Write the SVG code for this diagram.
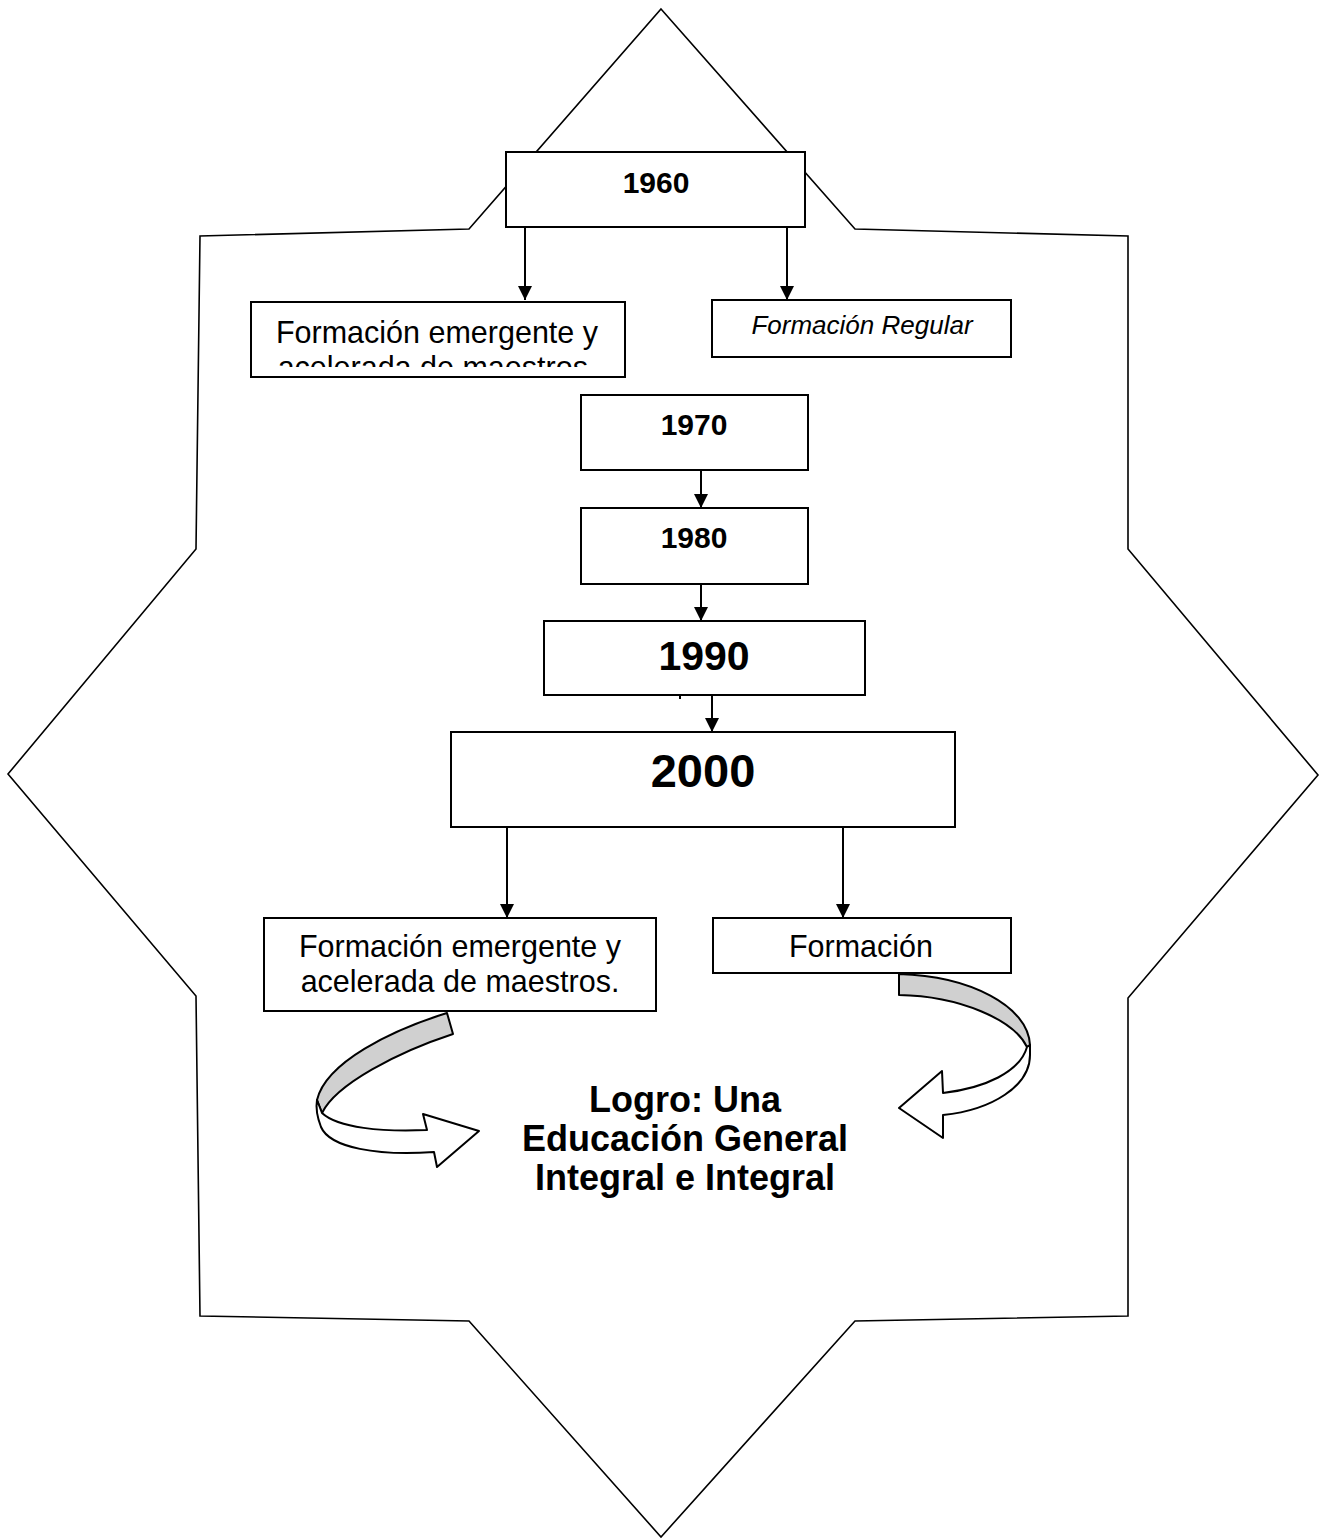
<svg xmlns="http://www.w3.org/2000/svg" width="1321" height="1539" viewBox="0 0 1321 1539">
  <style>
    .star { fill: #fff; stroke: #000; stroke-width: 1.6; stroke-linejoin: miter; }
    .box { fill: #fff; stroke: #000; stroke-width: 2; }
    .edge { stroke: #000; stroke-width: 2; fill: none; }
    .t { font-family: "Liberation Sans", Arial, sans-serif; fill: #000; text-anchor: middle; }
    .b { font-weight: bold; }
    .band { stroke: #000; stroke-width: 2; stroke-linejoin: round; }
  </style>
  <defs>
    <marker id="head" viewBox="0 0 14 14" refX="14" refY="7" markerWidth="14" markerHeight="14" markerUnits="userSpaceOnUse" orient="auto">
      <path d="M0,0 L14,7 L0,14 Z" fill="#000"/>
    </marker>
    <clipPath id="clipEarly">
      <rect x="252" y="303" width="372" height="64"/>
    </clipPath>
  </defs>

  <rect width="1321" height="1539" fill="#fff"/>

  <!-- eight-pointed star frame -->
  <polygon class="star" points="661,9 855,229 1128,236 1128,549 1318,775 1128,998 1128,1316 855,1321 661,1537 469,1321 200,1316 196,996 8,774 196,549 200,236 469,229"/>

  <!-- connectors -->
  <g id="connectors">
    <line class="edge" x1="525" y1="227" x2="525" y2="300" marker-end="url(#head)"/>
    <line class="edge" x1="787" y1="227" x2="787" y2="300" marker-end="url(#head)"/>
    <line class="edge" x1="701" y1="466" x2="701" y2="508" marker-end="url(#head)"/>
    <line class="edge" x1="701" y1="582" x2="701" y2="621" marker-end="url(#head)"/>
    <line class="edge" x1="712" y1="694" x2="712" y2="732" marker-end="url(#head)"/>
    <line class="edge" x1="680" y1="695" x2="680" y2="699" stroke-width="1.5"/>
    <line class="edge" x1="507" y1="827" x2="507" y2="918" marker-end="url(#head)"/>
    <line class="edge" x1="843" y1="827" x2="843" y2="918" marker-end="url(#head)"/>
  </g>

  <g id="n1960">
    <rect class="box" x="506" y="152" width="299" height="75"/>
    <text class="t b" x="656" y="193" font-size="30">1960</text>
  </g>

  <g id="early-left">
    <rect class="box" x="251" y="302" width="374" height="75"/>
    <g clip-path="url(#clipEarly)">
      <text class="t" x="437" y="343" font-size="30.5">Formación emergente y</text>
      <text class="t" x="437" y="378" font-size="30.5">acelerada de maestros.</text>
    </g>
  </g>

  <g id="regular">
    <rect class="box" x="712" y="300" width="299" height="57"/>
    <text class="t" x="862" y="334" font-size="26" font-style="italic">Formación Regular</text>
  </g>

  <g id="n1970">
    <rect class="box" x="581" y="395" width="227" height="75"/>
    <text class="t b" x="694" y="435" font-size="30">1970</text>
  </g>

  <g id="n1980">
    <rect class="box" x="581" y="508" width="227" height="76"/>
    <text class="t b" x="694" y="548" font-size="30">1980</text>
  </g>

  <g id="n1990">
    <rect class="box" x="544" y="621" width="321" height="74"/>
    <text class="t b" x="704" y="670" font-size="41">1990</text>
  </g>

  <g id="n2000">
    <rect class="box" x="451" y="732" width="504" height="95"/>
    <text class="t b" x="703" y="787" font-size="47">2000</text>
  </g>

  <g id="late-left">
    <rect class="box" x="264" y="918" width="392" height="93"/>
    <text class="t" x="460" y="957" font-size="30.5">Formación emergente y</text>
    <text class="t" x="460" y="992" font-size="30.5">acelerada de maestros.</text>
  </g>

  <g id="late-right">
    <rect class="box" x="713" y="918" width="298" height="55"/>
    <text class="t" x="861" y="957" font-size="30.5">Formación</text>
  </g>

  <!-- curved ribbon arrows -->
  <g id="curve-left">
    <path class="band" fill="#d0d0d0" d="M447,1013 C392,1030 326,1062 317,1100 L322,1113 C336,1084 398,1052 453,1034 Z"/>
    <path class="band" fill="#fff" d="M322,1113 C338,1128 382,1132 427,1130 L423,1114 L479,1131 L437,1167 L434,1152 C378,1156 330,1148 321,1127 C316,1114 316,1106 317,1100 Z"/>
  </g>

  <g id="curve-right">
    <path class="band" fill="#d0d0d0" d="M899,974 C970,976 1028,1006 1030,1045 L1027,1047 C1014,1020 960,996 899,995 Z"/>
    <path class="band" fill="#fff" d="M1027,1047 C1020,1072 985,1088 943,1093 L942,1071 L899,1108 L943,1138 L943,1115 C992,1110 1030,1086 1030,1055 L1030,1045 Z"/>
  </g>

  <g id="logro">
    <text class="t b" x="685" y="1112" font-size="36">Logro: Una</text>
    <text class="t b" x="685" y="1151" font-size="36">Educación General</text>
    <text class="t b" x="685" y="1190" font-size="36">Integral e Integral</text>
  </g>
</svg>
